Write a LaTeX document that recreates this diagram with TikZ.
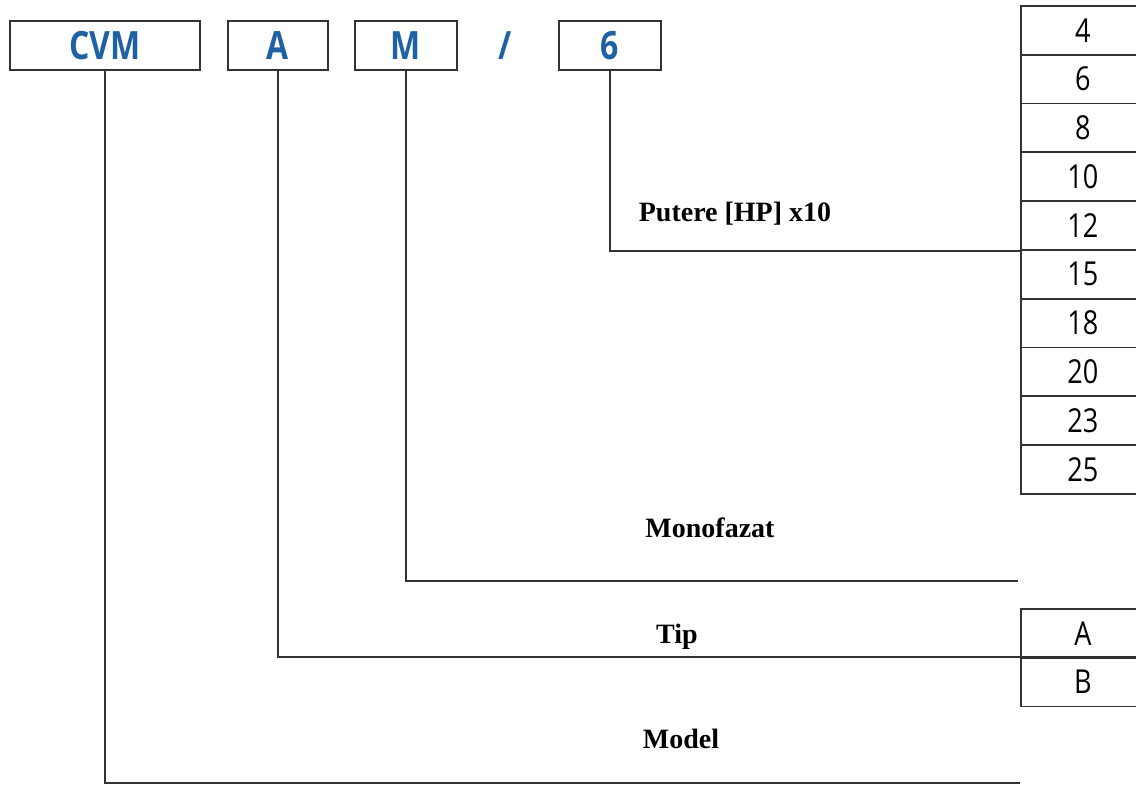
\documentclass[tikz,border=0pt]{standalone}
\usepackage{fontspec}
\setmainfont{Liberation Serif}
\newfontfamily\codefont[FakeStretch=0.82]{Open Sans}
\definecolor{codeblue}{RGB}{30,98,165}
\definecolor{linegray}{RGB}{50,50,50}

\begin{document}
\begin{tikzpicture}[x=1pt,y=1pt,
  codebox/.style={draw=linegray,line width=1.8pt,minimum height=49pt,inner sep=0pt,text=codeblue,font=\codefont\bfseries\fontsize{39}{39}\selectfont},
  cell/.style={draw=linegray,line width=1.8pt,minimum width=124pt,minimum height=48.8pt,inner sep=0pt,anchor=north west,font=\codefont\fontsize{33}{33}\selectfont},
  lead/.style={draw=linegray,line width=1.8pt},
  caption/.style={font=\bfseries\fontsize{28}{28}\selectfont}]
\useasboundingbox (0,0) rectangle (1136,-785);
% code boxes
\node[codebox,minimum width=190pt] (cvm) at (105,-45.5) {CVM};
\node[codebox,minimum width=100pt] (tip) at (278,-45.5) {A};
\node[codebox,minimum width=102pt] (faza) at (406,-45.5) {M};
\node[text=codeblue,font=\codefont\bfseries\fontsize{39}{39}\selectfont] (slash) at (505,-45.5) {/};
\node[codebox,minimum width=102pt] (putere) at (610,-45.5) {6};
% tables on the right
\foreach \val [count=\i from 0] in {4,6,8,10,12,15,18,20,23,25}
  \node[cell] (pw\val) at (1020,{-5-48.8*\i}) {\val};
\node[cell] (tipA) at (1020,-608) {A};
\node[cell] (tipB) at (1020,-656.8) {B};
\coordinate (monoend) at (1018,-581);
\coordinate (modelend) at (1020,-783);
% leads
\draw[lead] (putere.south) |- (pw12.south west);
\draw[lead] (faza.south) |- (monoend);
\draw[lead] (tip.south) |- (tipB.north east);
\draw[lead] (cvm.south) |- (modelend);
% captions
\node[caption] (putlbl) at (735,-214) {Putere [HP] x10};
\node[caption] (monolbl) at (710,-528) {Monofazat};
\node[caption] (tiplbl) at (677,-637) {Tip};
\node[caption] (modellbl) at (681,-739) {Model};
\end{tikzpicture}
\end{document}
